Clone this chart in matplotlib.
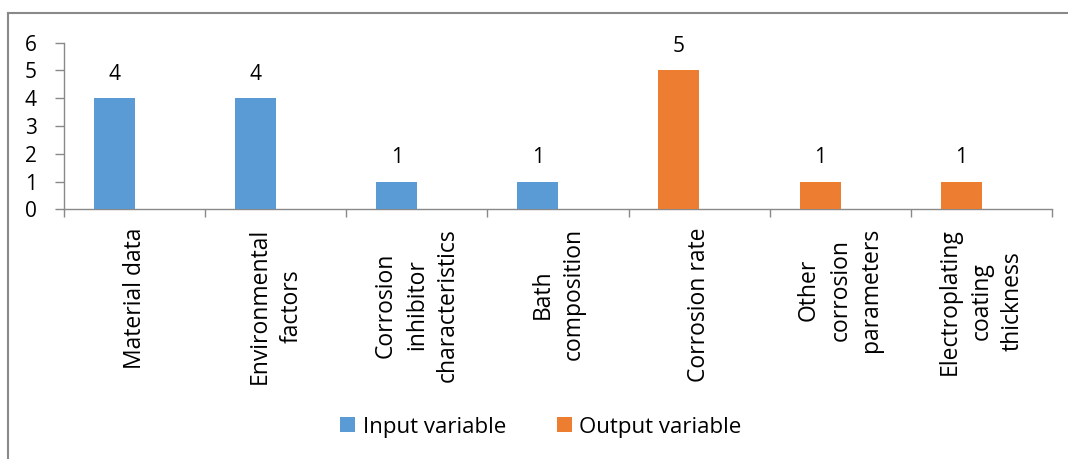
import matplotlib
matplotlib.use("Agg")
import matplotlib.pyplot as plt
import matplotlib.transforms as mtransforms
from matplotlib.lines import Line2D
from matplotlib.patches import Patch
import numpy as np

categories = ["Material data", "Environmental\nfactors",
              "Corrosion\ninhibitor\ncharacteristics", "Bath\ncomposition",
              "Corrosion rate", "Other\ncorrosion\nparameters",
              "Electroplating\ncoating\nthickness"]
input_values = [4, 4, 1, 1, 0, 0, 0]
output_values = [0, 0, 0, 0, 5, 1, 1]
series_names = ["Input variable", "Output variable"]
yticks = [0, 1, 2, 3, 4, 5, 6]

BLUE = "#5B9BD5"
ORANGE = "#ED7D31"
GRAY = "#898989"
FONT = "Open Sans"
FS_NUM = 15
FS_TXT = 16.5
FS_LEG = 16

plt.rcParams['font.family'] = [FONT, 'DejaVu Sans']

fig = plt.figure(figsize=(10.68, 4.59), dpi=100)
W, H = 1068, 459
ax = fig.add_axes([64 / W, 1 - 209.3 / H, (1052 - 64) / W, (209.3 - 42.7) / H])

x = np.arange(len(categories))
off = -0.143
width = 0.29
for vals, col in ((input_values, BLUE), (output_values, ORANGE)):
    for xi, v in zip(x, vals):
        if v > 0:
            ax.bar(xi + off, v, width=width, color=col, zorder=3)
            ax.annotate(str(v), (xi + off, v), xytext=(0, 13), textcoords='offset points',
                        ha='center', va='baseline', fontsize=FS_NUM, color='black')

ax.set_xlim(-0.5, len(categories) - 0.5)
ax.set_ylim(0, 6)
ax.set_yticks(yticks)
ax.set_yticklabels([str(t) for t in yticks], fontsize=FS_NUM)
ax.set_xticks(np.arange(len(categories) + 1) - 0.5)
ax.set_xticklabels([])
ax.tick_params(axis='y', length=6.5, width=1, color=GRAY, pad=13)
ax.tick_params(axis='x', length=5.8, width=1, color=GRAY, direction='out')
for s in ['top', 'right']:
    ax.spines[s].set_visible(False)
for s in ['left', 'bottom']:
    ax.spines[s].set_color(GRAY)
    ax.spines[s].set_linewidth(1)

trans = mtransforms.blended_transform_factory(ax.transData, ax.transAxes)
for xi, lab in zip(x, categories):
    ax.text(xi, -0.112, lab, transform=trans, rotation=90, ha='center', va='top',
            multialignment='center', fontsize=FS_TXT, linespacing=1.4)

handles = [Patch(facecolor=BLUE, edgecolor='none'), Patch(facecolor=ORANGE, edgecolor='none')]
fig.legend(handles, series_names, loc='center', bbox_to_anchor=(541 / W, 1 - 427 / H),
           ncol=2, frameon=False, fontsize=FS_LEG, handlelength=0.65, handleheight=0.65,
           handletextpad=0.35, columnspacing=2.3)

# outer chart border (left and top visible)
fig.add_artist(Line2D([8 / W, 8 / W], [0, 1 - 13 / H], transform=fig.transFigure,
                      color=GRAY, lw=1.5))
fig.add_artist(Line2D([8 / W, 1], [1 - 13 / H, 1 - 13 / H], transform=fig.transFigure,
                      color=GRAY, lw=1.5))

fig.savefig("out.png", dpi=100, facecolor='white')
